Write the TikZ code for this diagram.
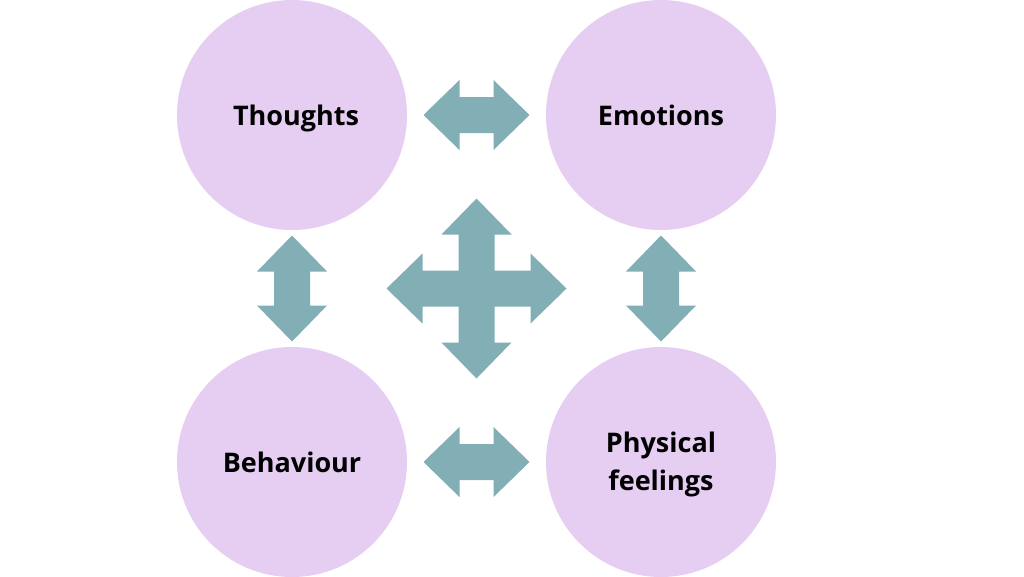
\documentclass[tikz,border=0pt]{standalone}
\usepackage{fontspec}
\setmainfont{Open Sans}
\usetikzlibrary{calc}
\definecolor{mylavender}{RGB}{229,206,241}
\definecolor{myteal}{RGB}{130,174,181}
\tikzset{
  feeling/.style={circle,fill=mylavender,minimum size=230pt,inner sep=0pt,
    align=center,font=\fontsize{27}{38}\selectfont\bfseries},
  dblarrow/.pic={
    \fill[myteal] (-53,0) -- (-17,-35) -- (-17,-18) -- (17,-18) -- (17,-35)
      -- (53,0) -- (17,35) -- (17,18) -- (-17,18) -- (-17,35) -- cycle;
  },
  crossarrow/.pic={
    \fill[myteal] (90,0) -- (54,35) -- (54,18) -- (18,18) -- (18,54)
      -- (35,54) -- (0,90) -- (-35,54) -- (-18,54) -- (-18,18)
      -- (-54,18) -- (-54,35) -- (-90,0) -- (-54,-35) -- (-54,-18)
      -- (-18,-18) -- (-18,-54) -- (-35,-54) -- (0,-90) -- (35,-54)
      -- (18,-54) -- (18,-18) -- (54,-18) -- (54,-35) -- cycle;
  }
}
\begin{document}
\begin{tikzpicture}[x=1pt,y=-1pt]
  \useasboundingbox[fill=white] (0,0) rectangle (1024,576);

  % circles
  \fill[mylavender] (292,115) circle (115) (292,462) circle (115)
    (661,115) circle (115) (661,462) circle (115);
  \node[feeling,fill=none] (thoughts)  at (292,118) {\hspace*{8pt}Thoughts};
  \node[feeling,fill=none] (emotions)  at (661,115) {Emotions};
  \node[feeling,fill=none] (behaviour) at (292,462) {Behaviour};
  \node[feeling,fill=none] (physical)  at (661,464) {Physical\\feelings};

  % arrows between circles
  \pic at ($(emotions)!0.5!(emotions-|thoughts)$) {dblarrow};
  \pic at ($(behaviour)!0.5!(behaviour-|physical)$) {dblarrow};
  \pic[rotate=90] at ($(behaviour)!0.5!(behaviour|-emotions)$) {dblarrow};
  \pic[rotate=90] at ($(emotions)!0.5!(emotions|-behaviour)$) {dblarrow};

  % centre
  \pic at ($(emotions)!0.5!(behaviour)$) {crossarrow};
\end{tikzpicture}
\end{document}
